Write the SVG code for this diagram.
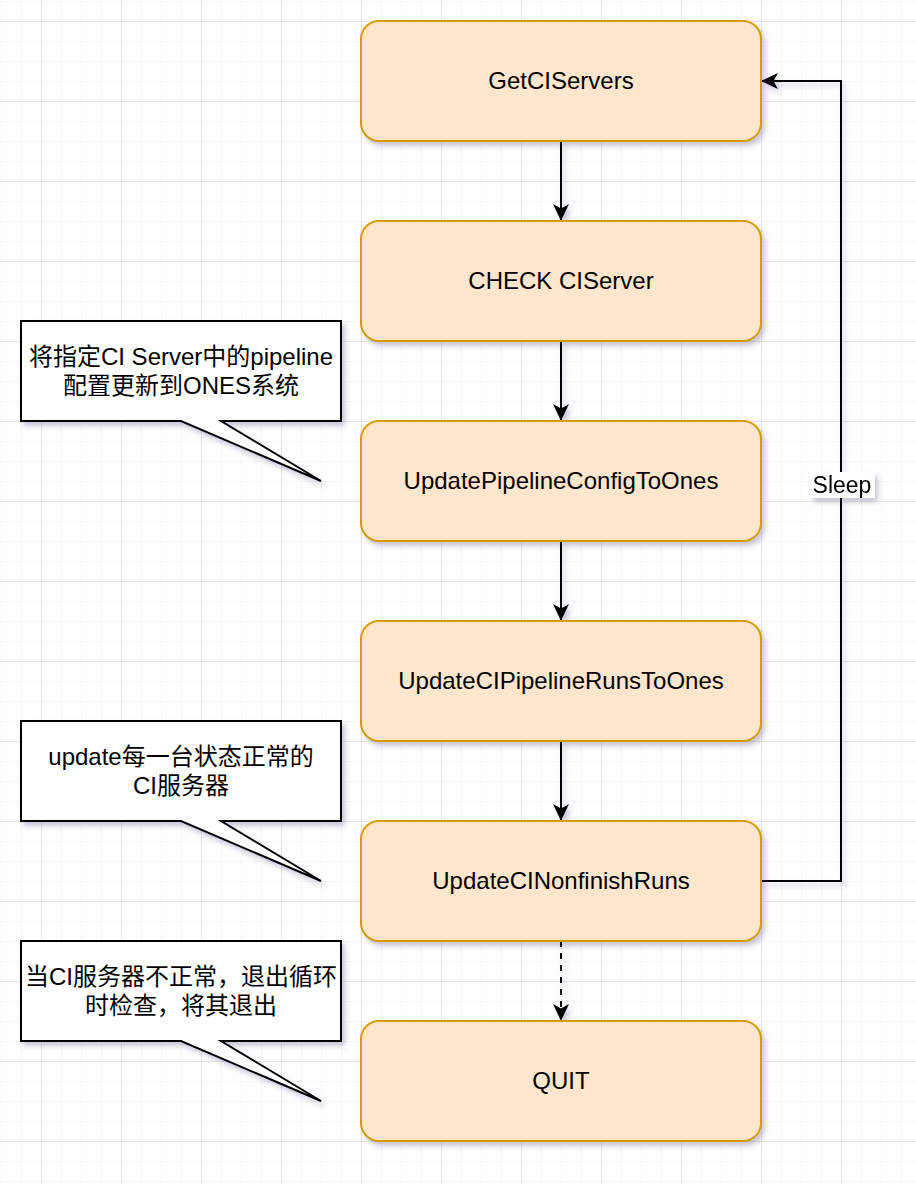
<svg xmlns="http://www.w3.org/2000/svg" width="916" height="1184" viewBox="0 0 916 1184">
<defs>
<pattern id="minor" patternUnits="userSpaceOnUse" x="1" y="1" width="20" height="20">
<path d="M0 0 V20 M0 0 H20" fill="none" stroke="#efefef" stroke-width="1"/>
</pattern>
<pattern id="major" patternUnits="userSpaceOnUse" x="41" y="21" width="80" height="80">
<path d="M0 0 V80 M0 0 H80" fill="none" stroke="#d6d6d6" stroke-width="1"/>
</pattern>
<filter id="shadow" filterUnits="userSpaceOnUse" x="0" y="0" width="916" height="1184">
<feDropShadow dx="3" dy="4" stdDeviation="2.5" flood-color="#3c3c70" flood-opacity="0.28"/>
</filter>
<marker id="arrow" markerUnits="userSpaceOnUse" markerWidth="20" markerHeight="20" refX="17" refY="8" orient="auto">
<path d="M0,0 L17,8 L0,16 L4.5,8 Z" fill="#000"/>
</marker>
<style>
.node rect { fill: #ffe6cc; stroke: #d79b00; stroke-width: 2; }
.node text { font-family: "Liberation Sans", Arial, "Noto Sans CJK SC", sans-serif; font-size: 24px; fill: #000; text-anchor: middle; }
.callout path { fill: #fff; stroke: #000; stroke-width: 2; stroke-linejoin: miter; }
.callout text { font-family: "Liberation Sans", Arial, "Noto Sans CJK SC", sans-serif; font-size: 24px; fill: #000; text-anchor: middle; }
.edge { fill: none; stroke: #000; stroke-width: 2; }
.label rect { fill: #fff; }
.label text { font-family: "Liberation Sans", Arial, sans-serif; font-size: 23px; fill: #000; text-anchor: middle; }
</style>
</defs>
<rect x="0" y="0" width="916" height="1184" fill="#fff"/>
<rect x="0" y="0" width="916" height="1184" fill="url(#minor)"/>
<rect x="0" y="0" width="916" height="1184" fill="url(#major)"/>

<g id="connectors" filter="url(#shadow)">
<path class="edge" d="M561 141 V221" marker-end="url(#arrow)"/>
<path class="edge" d="M561 341 V421" marker-end="url(#arrow)"/>
<path class="edge" d="M561 541 V621" marker-end="url(#arrow)"/>
<path class="edge" d="M561 741 V821" marker-end="url(#arrow)"/>
<path class="edge" d="M561 941 V1021" stroke-dasharray="6 6" marker-end="url(#arrow)"/>
<path class="edge" d="M761 881 H841 V81 H761" marker-end="url(#arrow)"/>
<g class="label" id="label-sleep">
<rect x="810" y="472" width="65" height="26"/>
<text x="842" y="485" dy="0.35em">Sleep</text>
</g>
</g>

<g id="node-getciservers" class="node">
<rect x="361" y="21" width="400" height="120" rx="18" filter="url(#shadow)"/>
<text x="561" y="81" dy="0.35em">GetCIServers</text>
</g>
<g id="node-checkciserver" class="node">
<rect x="361" y="221" width="400" height="120" rx="18" filter="url(#shadow)"/>
<text x="561" y="281" dy="0.35em">CHECK CIServer</text>
</g>
<g id="node-updatepipelineconfig" class="node">
<rect x="361" y="421" width="400" height="120" rx="18" filter="url(#shadow)"/>
<text x="561" y="481" dy="0.35em">UpdatePipelineConfigToOnes</text>
</g>
<g id="node-updatecipipelineruns" class="node">
<rect x="361" y="621" width="400" height="120" rx="18" filter="url(#shadow)"/>
<text x="561" y="681" dy="0.35em">UpdateCIPipelineRunsToOnes</text>
</g>
<g id="node-updatecinonfinishruns" class="node">
<rect x="361" y="821" width="400" height="120" rx="18" filter="url(#shadow)"/>
<text x="561" y="881" dy="0.35em">UpdateCINonfinishRuns</text>
</g>
<g id="node-quit" class="node">
<rect x="361" y="1021" width="400" height="120" rx="18" filter="url(#shadow)"/>
<text x="561" y="1081" dy="0.35em">QUIT</text>
</g>

<g id="callout-1" class="callout">
<path d="M21 321 H341 V421 H221 L321 481 L181 421 H21 Z" filter="url(#shadow)"/>
<text x="181" y="357" dy="0.35em">将指定CI Server中的pipeline</text>
<text x="181" y="386" dy="0.35em">配置更新到ONES系统</text>
</g>
<g id="callout-2" class="callout">
<path d="M21 721 H341 V821 H221 L321 881 L181 821 H21 Z" filter="url(#shadow)"/>
<text x="181" y="757" dy="0.35em">update每一台状态正常的</text>
<text x="181" y="786" dy="0.35em">CI服务器</text>
</g>
<g id="callout-3" class="callout">
<path d="M21 941 H341 V1041 H221 L321 1101 L181 1041 H21 Z" filter="url(#shadow)"/>
<text x="181" y="977" dy="0.35em">当CI服务器不正常，退出循环</text>
<text x="181" y="1006" dy="0.35em">时检查，将其退出</text>
</g>
</svg>
